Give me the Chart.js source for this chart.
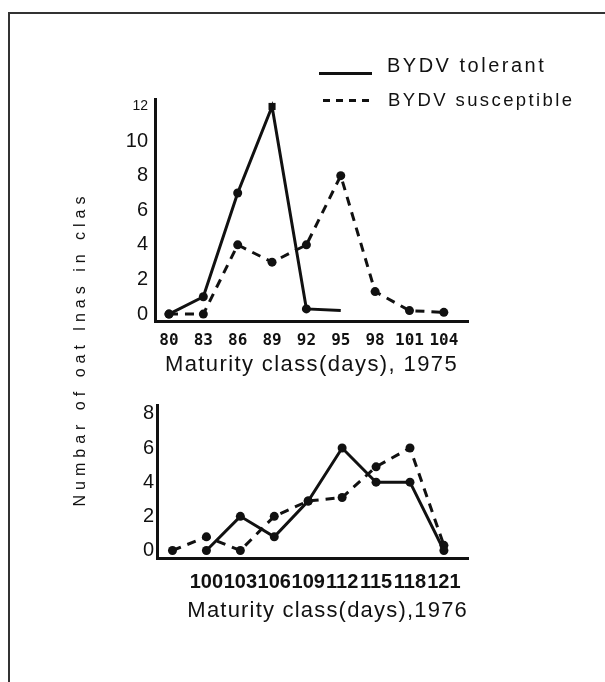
<!DOCTYPE html>
<html><head><meta charset="utf-8">
<script src="https://cdn.jsdelivr.net/npm/chart.js@4.4.1/dist/chart.umd.min.js"></script>
<style>
html,body{margin:0;padding:0;background:#fff;}
body{width:605px;height:682px;position:relative;overflow:hidden;font-family:"Liberation Sans",Arial,sans-serif;color:#111;}
.box{position:absolute;left:0;width:605px;}
#frameTop{position:absolute;left:8px;top:12px;width:597px;height:2px;background:#333;}
#frameLeft{position:absolute;left:8px;top:12px;width:2px;height:670px;background:#333;}
.lgline{position:absolute;height:3px;}
.lgtext{position:absolute;white-space:nowrap;line-height:24px;}
#lgl0{left:319px;top:72px;width:53px;background:#111;}
#lgl1{left:323px;top:99px;width:47px;background:repeating-linear-gradient(to right,#111 0 7px,transparent 7px 13px);}
#lgt0{left:387px;top:53px;font-size:20px;letter-spacing:2.5px;}
#lgt1{left:388px;top:88px;font-size:18.5px;letter-spacing:2.4px;}
#ytitle{position:absolute;left:-80px;top:339px;width:320px;height:20px;line-height:20px;text-align:center;font-size:16px;letter-spacing:5px;transform:rotate(-90deg);transform-origin:center;white-space:nowrap;}
</style></head>
<body>
<div id="frameTop"></div><div id="frameLeft"></div>
<div class="box" style="top:0;height:400px"><canvas id="c1"></canvas></div>
<div class="box" style="top:390px;height:260px"><canvas id="c2"></canvas></div>
<div id="legend"></div>
<div id="ytitle"></div>
<script>
// ---- data ----
const seriesNames = ['BYDV tolerant', 'BYDV susceptible'];
const days1975 = [80, 83, 86, 89, 92, 95, 98, 101, 104];
const tolerant1975 = [0, 1, 7, 12, 0.3, 0.2, null, null, null];
const susceptible1975 = [0, 0, 4, 3, 4, 8, 1.3, 0.2, 0.1];
const tickDays1975 = [80, 83, 86, 89, 92, 95, 98, 101, 104];
const days1976 = [97, 100, 103, 106, 109, 112, 115, 118, 121];
const tolerant1976 = [null, 0, 2, 0.8, 2.9, 6, 4, 4, 0];
const susceptible1976 = [0, 0.8, 0, 2, 2.9, 3.1, 4.9, 6, 0.3];
const tickDays1976 = [100, 103, 106, 109, 112, 115, 118, 121];
const countTicks1975 = [0, 2, 4, 6, 8, 10, 12];
const countTicks1976 = [0, 2, 4, 6, 8];
const yTitle = 'Numbar of oat lnas in clas';
const xTitle1975 = 'Maturity class(days), 1975';
const xTitle1976 = 'Maturity class(days),1976';

// ---- html texts ----
document.getElementById('ytitle').textContent = yTitle;
const lg = document.getElementById('legend');
seriesNames.forEach((n, i) => {
  const l = document.createElement('div'); l.className = 'lgline'; l.id = 'lgl' + i; lg.appendChild(l);
  const t = document.createElement('div'); t.className = 'lgtext'; t.id = 'lgt' + i; t.textContent = n; lg.appendChild(t);
});

const INK = '#111';
function spacingPlugin(titleSp, tickSp) {
  return {
    id: 'letterSpacing',
    beforeDraw(chart) {
      const s = chart.scales.x;
      if (s && !s._lsPatched) {
        const dt = s.drawTitle.bind(s), dl = s.drawLabels.bind(s);
        s.drawTitle = function () { const c = chart.ctx; c.save(); c.letterSpacing = titleSp; dt(); c.restore(); };
        s.drawLabels = function (a) { const c = chart.ctx; c.save(); c.letterSpacing = tickSp; dl(a); c.restore(); };
        s._lsPatched = true;
      }
    }
  };
}

function makeChart(id, cfg) {
  const toXY = (xs, ys) => xs.map((x, i) => ({ x: x, y: ys[i] }));
  return new Chart(document.getElementById(id), {
    type: 'line',
    data: {
      datasets: [
        { label: seriesNames[0], data: toXY(cfg.days, cfg.tol), borderColor: INK, backgroundColor: INK,
          borderWidth: 3, pointRadius: cfg.tolRadius, pointStyle: cfg.tolStyle, pointBorderWidth: 0,
          pointBackgroundColor: INK, tension: 0, clip: false, spanGaps: false },
        { label: seriesNames[1], data: toXY(cfg.days, cfg.sus), borderColor: INK, backgroundColor: INK,
          borderWidth: 3, borderDash: [9, 7], pointRadius: 4.5, pointBorderWidth: 0,
          pointBackgroundColor: INK, tension: 0, clip: false, spanGaps: false }
      ]
    },
    options: {
      responsive: true, maintainAspectRatio: false, animation: false, events: [],
      layout: { padding: { left: 100, right: 137, top: cfg.padTop, bottom: 0 } },
      plugins: { legend: { display: false }, tooltip: { enabled: false } },
      scales: {
        x: {
          type: 'linear', min: cfg.xMin, max: cfg.xMax,
          grid: { display: false, drawTicks: false },
          border: { display: true, color: INK, width: 3 },
          afterBuildTicks: s => { s.ticks = cfg.xTicks.map(v => ({ value: v })); },
          afterFit: s => { s.height = cfg.xHeight; },
          ticks: { color: INK, font: cfg.xTickFont, padding: cfg.xTickPad, autoSkip: false,
                   minRotation: 0, maxRotation: 0, callback: v => String(v) },
          title: { display: true, text: cfg.xTitle, color: INK,
                   font: { family: 'Liberation Sans', size: 22 }, align: cfg.titleAlign,
                   padding: { top: 0, bottom: cfg.titlePadB } }
        },
        y: {
          type: 'linear', min: cfg.yMin, max: cfg.yMax,
          grid: { display: false, drawTicks: false },
          border: { display: true, color: INK, width: 3 },
          afterBuildTicks: s => { s.ticks = cfg.yTicks.map(v => ({ value: v })); },
          afterFit: s => { s.width = cfg.yWidth; },
          ticks: { color: INK, padding: cfg.yTickPad, autoSkip: false, callback: v => String(v),
                   font: ctx => ({ family: 'Liberation Sans', size: (ctx.tick && ctx.tick.value === 12) ? 14 : 20 }) }
        }
      }
    },
    plugins: [spacingPlugin(cfg.titleSpacing, '0px')]
  });
}

makeChart('c1', {
  days: days1975, tol: tolerant1975, sus: susceptible1975,
  tolRadius: [4.5, 4.5, 4.5, 5, 4.5, 0, 0, 0, 0],
  tolStyle: ['circle', 'circle', 'circle', 'rect', 'circle', 'circle', 'circle', 'circle', 'circle'],
  padTop: 99, xMin: 78.78, xMax: 106.11, yMin: -0.4, yMax: 12.43,
  xTicks: tickDays1975, yTicks: countTicks1975, xHeight: 79, yWidth: 55, yTickPad: 7,
  xTickFont: { family: 'DejaVu Sans Mono', size: 16, weight: 'bold' }, xTickPad: 10,
  xTitle: xTitle1975, titleAlign: 'center', titlePadB: 21.8, titleSpacing: '1.4px'
});

makeChart('c2', {
  days: days1976, tol: tolerant1976, sus: susceptible1976,
  tolRadius: 4.5, tolStyle: 'circle',
  padTop: 14, xMin: 95.63, xMax: 123.13, yMin: -0.44, yMax: 8.52,
  xTicks: tickDays1976, yTicks: countTicks1976, xHeight: 92, yWidth: 57, yTickPad: 3,
  xTickFont: { family: 'Liberation Sans', size: 20, weight: 'bold' }, xTickPad: 12,
  xTitle: xTitle1976, titleAlign: 'end', titlePadB: 25.8, titleSpacing: '1.2px'
});
</script>
</body></html>
